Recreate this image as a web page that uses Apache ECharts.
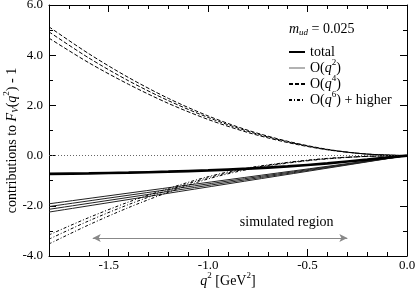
<!DOCTYPE html>
<html>
<head>
<meta charset="utf-8">
<script src="https://cdn.jsdelivr.net/npm/echarts@6/dist/echarts.min.js"></script>
<style>
html,body{margin:0;padding:0;background:#fff;}
#chart{width:415px;height:291px;}
</style>
</head>
<body>
<div id="chart"></div>
<script>
// q^2 sample points [GeV^2]
const qsq = [-1.8, -1.6, -1.4, -1.2, -1.0, -0.8, -0.6, -0.4, -0.2, 0.0];
// total
const totalVals = [-0.73, -0.71, -0.68, -0.64, -0.59, -0.52, -0.43, -0.31, -0.16, 0.0];
// O(q^2) lines (linear): endpoints
const q2x = [-1.8, 0.0];
const o2a = [-1.92, 0.0];
const o2b = [-2.03, 0.0];
const o2c = [-2.14, 0.0];
const o2d = [-2.25, 0.0];
// O(q^4) lines
const o4a = [5.13, 4.06, 3.11, 2.28, 1.58, 1.01, 0.57, 0.25, 0.06, 0.0];
const o4b = [4.93, 3.89, 2.98, 2.19, 1.52, 0.97, 0.55, 0.24, 0.06, 0.0];
const o4c = [4.68, 3.70, 2.84, 2.08, 1.44, 0.92, 0.52, 0.23, 0.06, 0.0];
// O(q^6) + higher lines
const o6a = [-3.16, -2.47, -1.85, -1.31, -0.84, -0.49, -0.27, -0.11, -0.03, 0.0];
const o6b = [-3.33, -2.60, -1.95, -1.38, -0.88, -0.52, -0.28, -0.12, -0.03, 0.0];
const o6c = [-3.52, -2.76, -2.07, -1.46, -0.93, -0.55, -0.30, -0.13, -0.03, 0.0];
// simulated region arrow
const simRegion = [-1.58, -0.30];
const simArrowY = -3.28;
const simLabelPos = [-0.605, -2.67];
// axis ticks
const xMajorTicks = [-1.5, -1.0, -0.5, 0.0];
const mudText = '0.025';

const FONT = 'Liberation Serif';
const pair = (xs, ys) => xs.map((x, i) => [x, ys[i]]);

const richBase = {
  n: {fontFamily: FONT, fontSize: 14, fontWeight: 'normal', color: '#000'},
  i: {fontFamily: FONT, fontSize: 14, fontStyle: 'italic', fontWeight: 'normal', color: '#000'},
  sup: {fontFamily: FONT, fontSize: 9, fontWeight: 'normal', color: '#000', padding: [0, 0, 11, 0]},
  sub: {fontFamily: FONT, fontSize: 9, fontStyle: 'italic', fontWeight: 'normal', color: '#000', padding: [7, 0, 0, 0]}
};

function lineSeries(name, data, style, z) {
  return {
    type: 'line', name: name, data: data, symbol: 'none', smooth: 0.3,
    itemStyle: {color: style.color},
    lineStyle: style, z: z || 2, silent: true, xAxisIndex: 0, yAxisIndex: 0
  };
}

const sTotal = {color: '#000', width: 2.6};
const sO2 = {color: '#222', width: 1};
const sO4 = {color: '#000', width: 1, type: [4, 2]};
const sO6 = {color: '#000', width: 1, type: [3, 2, 1, 2]};

const series = [
  lineSeries('total', pair(qsq, totalVals), sTotal, 5),
  lineSeries('O(q2)', pair(q2x, o2a), sO2),
  lineSeries('O(q2)', pair(q2x, o2b), sO2),
  lineSeries('O(q2)', pair(q2x, o2c), sO2),
  lineSeries('O(q2)', pair(q2x, o2d), sO2),
  lineSeries('O(q4)', pair(qsq, o4a), sO4),
  lineSeries('O(q4)', pair(qsq, o4b), sO4),
  lineSeries('O(q4)', pair(qsq, o4c), sO4),
  lineSeries('O(q6)', pair(qsq, o6a), sO6),
  lineSeries('O(q6)', pair(qsq, o6b), sO6),
  lineSeries('O(q6)', pair(qsq, o6c), sO6),
  {
    type: 'line', name: 'aux', data: [], symbol: 'none', silent: true,
    markLine: {
      silent: true, animation: false, symbol: 'none', label: {show: false},
      lineStyle: {color: '#666', width: 1, type: [1, 2]},
      data: [{yAxis: 0}]
    }
  },
  {
    type: 'line', name: 'aux2', data: [], symbol: 'none', silent: true,
    markLine: {
      silent: true, animation: false, symbol: ['arrow', 'arrow'], symbolSize: [6, 8],
      label: {show: false},
      lineStyle: {color: '#888', width: 1.2, type: 'solid'},
      data: [[{coord: [simRegion[0], simArrowY]}, {coord: [simRegion[1], simArrowY]}]]
    },
    markPoint: {
      silent: true, animation: false, symbol: 'circle', symbolSize: 0,
      label: {show: true, position: 'inside', formatter: 'simulated region',
        fontFamily: FONT, fontSize: 14, color: '#000'},
      data: [{coord: simLabelPos}]
    }
  }
];

const fmtNum = v => (Math.abs(v) < 1e-9 ? 0 : v).toFixed(1);

const option = {
  animation: false,
  backgroundColor: '#fff',
  title: {
    text: '{i|m}{sub|ud}{n| = ' + mudText + '}',
    left: 284, top: 16,
    textStyle: {fontWeight: 'normal', rich: richBase}
  },
  legend: {
    orient: 'vertical', left: 283, top: 40,
    itemWidth: 16, itemHeight: 10, itemGap: -1,
    itemStyle: {opacity: 0},
    data: [
      {name: 'total'},
      {name: 'O(q2)', lineStyle: {color: '#999', width: 1.5}},
      {name: 'O(q4)'},
      {name: 'O(q6)'}
    ],
    formatter: function (name) {
      if (name === 'total') return '{n|total}';
      if (name === 'O(q2)') return '{n|O(}{i|q}{sup|2}{n|)}';
      if (name === 'O(q4)') return '{n|O(}{i|q}{sup|4}{n|)}';
      return '{n|O(}{i|q}{sup|6}{n|) + higher}';
    },
    textStyle: {rich: richBase},
    selectedMode: false
  },
  grid: {left: 49, right: 8, top: 5, bottom: 35, containLabel: false, outerBoundsMode: 'none'},
  xAxis: [
    {
      type: 'value', position: 'bottom', min: -1.8, max: 0,
      name: '{i|q}{sup|2}{n| [GeV}{sup|2}{n|]}', nameLocation: 'middle', nameGap: 15,
      nameMoveOverlap: false,
      nameTextStyle: {rich: richBase},
      axisLine: {show: true, onZero: false, lineStyle: {color: '#000', width: 1}},
      axisTick: {show: true, inside: true, length: 7, customValues: xMajorTicks, lineStyle: {color: '#000'}},
      axisLabel: {show: true, customValues: xMajorTicks, formatter: fmtNum, fontFamily: FONT, fontSize: 13, color: '#000', margin: 3},
      splitLine: {show: false}
    },
    {
      type: 'value', position: 'bottom', min: -1.8, max: 0, interval: 0.1,
      axisLine: {show: false, onZero: false},
      axisTick: {show: true, inside: true, length: 4, lineStyle: {color: '#000'}},
      axisLabel: {show: false}, splitLine: {show: false}
    },
    {
      type: 'value', position: 'top', min: -1.8, max: 0,
      axisLine: {show: true, onZero: false, lineStyle: {color: '#000', width: 1}},
      axisTick: {show: true, inside: true, length: 7, customValues: xMajorTicks, lineStyle: {color: '#000'}},
      axisLabel: {show: false}, splitLine: {show: false}
    },
    {
      type: 'value', position: 'top', min: -1.8, max: 0, interval: 0.1,
      axisLine: {show: false, onZero: false},
      axisTick: {show: true, inside: true, length: 4, lineStyle: {color: '#000'}},
      axisLabel: {show: false}, splitLine: {show: false}
    }
  ],
  yAxis: [
    {
      type: 'value', position: 'left', min: -4, max: 6, interval: 2,
      name: '{n|contributions to }{i|F}{sub|V}{n|(}{i|q}{sup|2}{n|) - 1}',
      nameLocation: 'middle', nameGap: 27, nameRotate: 90,
      nameMoveOverlap: false,
      nameTextStyle: {rich: richBase, padding: [0, 20, 0, 0]},
      axisLine: {show: true, onZero: false, lineStyle: {color: '#000', width: 1}},
      axisTick: {show: true, inside: true, length: 7, lineStyle: {color: '#000'}},
      minorTick: {show: true, splitNumber: 2, length: 4, lineStyle: {color: '#000'}},
      axisLabel: {show: true, formatter: fmtNum, fontFamily: FONT, fontSize: 13, color: '#000', margin: 6},
      splitLine: {show: false}, minorSplitLine: {show: false}
    },
    {
      type: 'value', position: 'right', min: -4, max: 6, interval: 2,
      axisLine: {show: true, onZero: false, lineStyle: {color: '#000', width: 1}},
      axisTick: {show: true, inside: true, length: 7, lineStyle: {color: '#000'}},
      minorTick: {show: true, splitNumber: 2, length: 4, lineStyle: {color: '#000'}},
      axisLabel: {show: false},
      splitLine: {show: false}, minorSplitLine: {show: false}
    }
  ],
  series: series
};

const chart = echarts.init(document.getElementById('chart'), null, {renderer: 'canvas'});
chart.setOption(option);
</script>
</body>
</html>
